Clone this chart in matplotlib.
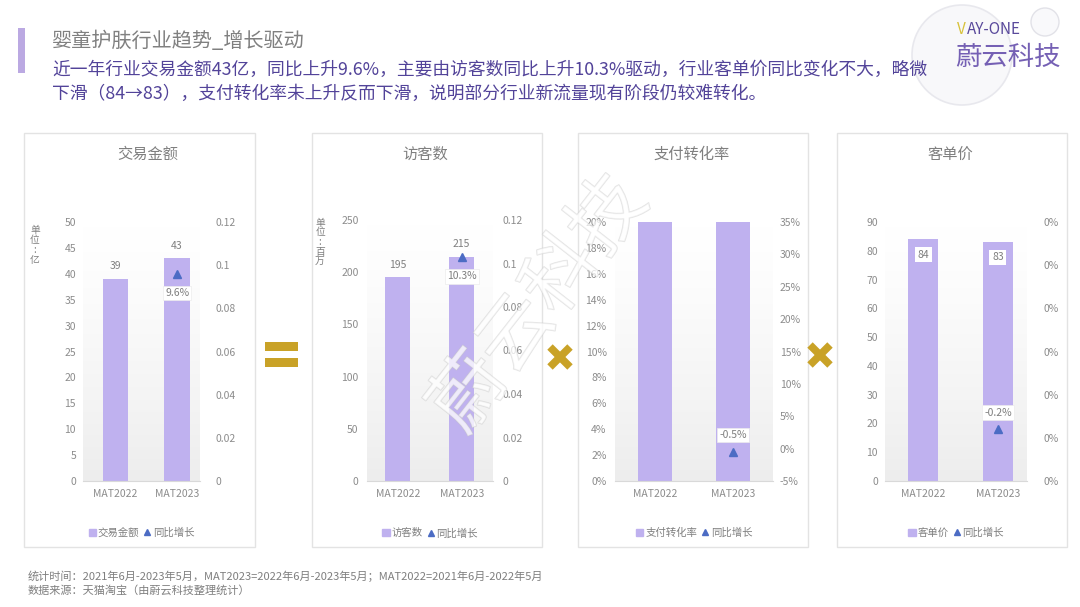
import numpy as np
import matplotlib
matplotlib.use('Agg')
import matplotlib.pyplot as plt
from matplotlib.patches import Rectangle, Circle, Patch
from matplotlib.lines import Line2D
import matplotlib.patheffects as pe
from matplotlib.ticker import FuncFormatter

plt.rcParams['font.family'] = ['Noto Sans CJK SC', 'DejaVu Sans']

# -------------------------------
# data
# -------------------------------
periods = ['MAT2022', 'MAT2023']

gmv = [39, 43]            # 交易金额 (亿)
gmv_yoy = 0.096
visitors = [195, 215]     # 访客数 (百万)
visitors_yoy = 0.103
cvr = [0.238, 0.237]      # 支付转化率 (above the 20% axis top, bars are cut)
cvr_yoy = -0.005
aov = [84, 83]            # 客单价
aov_yoy = -0.0019

titles = ['交易金额', '访客数', '支付转化率', '客单价']
yoy_name = '同比增长'

# -------------------------------
# style
# -------------------------------
W, H = 1080, 607
BAR = '#bfb1ef'
TRI = '#4c6cc4'
GRAY = '#7f7f7f'
TICK = '#8c8c8c'
GOLD = '#c9a227'
EDGE = '#e3e3e3'

fig = plt.figure(figsize=(W / 100, H / 100), dpi=100)

# background layer in pixel coordinates (panel frames, signs, logo)
bg = fig.add_axes([0, 0, 1, 1], zorder=-1)
bg.set_xlim(0, W)
bg.set_ylim(H, 0)
bg.axis('off')

for x0, x1 in [(24, 255), (312, 542), (578, 808), (837, 1067)]:
    bg.add_patch(Rectangle((x0, 133), x1 - x0, 414, fill=False, ec=EDGE, lw=1))

# "=" sign
bg.add_patch(Rectangle((265, 342), 33, 9, color=GOLD, lw=0))
bg.add_patch(Rectangle((265, 358), 33, 9, color=GOLD, lw=0))
# two "x" signs
for cx, cy in [(560, 357), (820, 355)]:
    d = 10
    bg.plot([cx - d, cx + d], [cy - d, cy + d], color=GOLD, lw=5.5, solid_capstyle='butt')
    bg.plot([cx - d, cx + d], [cy + d, cy - d], color=GOLD, lw=5.5, solid_capstyle='butt')

# header bar
bg.add_patch(Rectangle((18, 28), 7, 45, color='#bba9e2', lw=0))

# logo bubbles
bg.add_patch(Circle((962, 55), 50, fc='#f8f8fa', ec='#e6e6ec', lw=1.2, alpha=0.9))
bg.add_patch(Circle((1045, 22), 14, fc='#f9f9fb', ec='#e2e2e8', lw=1))


def px_axes(left, top, right, bottom):
    return fig.add_axes([left / W, 1 - bottom / H, (right - left) / W, (bottom - top) / H])


def make_panel(box, xlim, width, vals, yoy, name, lylim, lticks, lfmt,
               rylim, rticks, rfmt, lpad, rpad, yoy_off, value_mode):
    ax = px_axes(*box)
    ax.set_xlim(*xlim)
    ax.set_ylim(*lylim)

    # soft gray gradient behind the bars
    grad = np.zeros((100, 1, 4))
    grad[..., :3] = 0.93
    grad[:, 0, 3] = np.linspace(0, 1, 100) ** 1.3
    ax.imshow(grad, extent=[xlim[0], xlim[1], lylim[0], lylim[1]],
              origin='upper', aspect='auto', zorder=0, interpolation='bilinear')
    ax.set_xlim(*xlim)
    ax.set_ylim(*lylim)

    x = np.arange(len(periods))
    ax.bar(x, vals, width=width, color=BAR, zorder=2)

    ax.set_xticks(x)
    ax.set_xticklabels(periods)
    ax.set_yticks(lticks)
    ax.yaxis.set_major_formatter(FuncFormatter(lfmt))
    for s in ['top', 'left', 'right']:
        ax.spines[s].set_visible(False)
    ax.spines['bottom'].set_color('#d9d9d9')
    ax.tick_params(axis='both', length=0, labelsize=7.5, labelcolor=TICK)
    ax.tick_params(axis='y', pad=lpad)
    ax.tick_params(axis='x', pad=6)

    if value_mode == 'above':
        for xi, v in zip(x, vals):
            ax.annotate(f'{v}', (xi, v), xytext=(0, 9), textcoords='offset points',
                        ha='center', va='center', fontsize=7.5, color=GRAY)
    elif value_mode == 'inside':
        for xi, v in zip(x, vals):
            ax.annotate(f'{v}', (xi, v), xytext=(0, -11), textcoords='offset points',
                        ha='center', va='center', fontsize=7.5, color=GRAY,
                        bbox=dict(boxstyle='square,pad=0.25', fc='white', ec='none'))

    ax2 = ax.twinx()
    ax2.set_ylim(*rylim)
    ax2.set_yticks(rticks)
    ax2.yaxis.set_major_formatter(FuncFormatter(rfmt))
    for s in ['top', 'left', 'right', 'bottom']:
        ax2.spines[s].set_visible(False)
    ax2.tick_params(axis='y', length=0, labelsize=7.5, labelcolor=TICK, pad=rpad)
    ax2.plot([x[1]], [yoy], linestyle='none', marker='^', ms=6, color=TRI, zorder=5)
    ax2.annotate(f'{yoy:.1%}', (x[1], yoy), xytext=(0, yoy_off), textcoords='offset points',
                 ha='center', va='center', fontsize=7.5, color=GRAY,
                 bbox=dict(boxstyle='square,pad=0.2', fc='white', ec='#ececec', lw=0.5))

    handles = [Patch(color=BAR), Line2D([], [], marker='^', ls='none', color=TRI, ms=5)]
    ax.legend(handles, [name, yoy_name], loc='center', bbox_to_anchor=(0.5, -0.2),
              ncol=2, frameon=False, fontsize=7.5, labelcolor=GRAY,
              handlelength=0.7, handleheight=0.7, handletextpad=0.2, columnspacing=0.4)
    return ax


plain = lambda v, p: f'{v:g}'
pct0 = lambda v, p: f'{v:.0%}'.replace('-0%', '0%')

make_panel((83, 222, 200, 481), (-0.52, 1.37), 0.41, gmv, gmv_yoy, titles[0],
           (0, 50), np.arange(0, 51, 5), plain,
           (0, 0.12), np.arange(0, 0.121, 0.02), plain, 5, 11, -14, 'above')
make_panel((367, 220, 493, 481), (-0.48, 1.49), 0.40, visitors, visitors_yoy, titles[1],
           (0, 250), np.arange(0, 251, 50), plain,
           (0, 0.12), np.arange(0, 0.121, 0.02), plain, 6, 7, -14, 'above')
make_panel((615, 222, 773, 481), (-0.51, 1.51), 0.43, cvr, cvr_yoy, titles[2],
           (0, 0.2), np.arange(0, 0.201, 0.02), pct0,
           (-0.05, 0.35), np.arange(-0.05, 0.351, 0.05), pct0, 6, 5, 12, None)
make_panel((885, 222, 1027, 481), (-0.51, 1.39), 0.41, aov, aov_yoy, titles[3],
           (0, 90), np.arange(0, 91, 10), plain,
           (-0.0025, 0.0005), np.linspace(-0.0025, 0.0005, 7), pct0, 5, 12, 12, 'inside')

# panel titles
for cx, t in zip([148, 425, 692, 950], titles):
    fig.text(cx / W, 1 - 154 / H, t, ha='center', va='center', fontsize=11, color=GRAY)

# unit labels
fig.text(35 / W, 1 - 245 / H, '单\n位\n:\n亿', ha='center', va='center',
         fontsize=7, color=GRAY, linespacing=1.0)
fig.text(320 / W, 1 - 242 / H, '单\n位\n:\n百\n万', ha='center', va='center',
         fontsize=7, color=GRAY, linespacing=0.95)

# header
fig.text(52 / W, 1 - 41 / H, '婴童护肤行业趋势_增长驱动', ha='left', va='center',
         fontsize=14.5, color='#808080')
sub_color = '#524399'
fig.text(52 / W, 1 - 70 / H,
         '近一年行业交易金额43亿，同比上升9.6%，主要由访客数同比上升10.3%驱动，行业客单价同比变化不大，略微',
         ha='left', va='center', fontsize=12.8, color=sub_color)
fig.text(52 / W, 1 - 94 / H,
         '下滑（84→83），支付转化率未上升反而下滑，说明部分行业新流量现有阶段仍较难转化。',
         ha='left', va='center', fontsize=12.8, color=sub_color)

# logo
fig.text(957 / W, 1 - 29 / H, 'V', ha='left', va='center', fontsize=11, color='#d8c23a')
fig.text(967 / W, 1 - 29 / H, 'AY-ONE', ha='left', va='center', fontsize=11, color='#5a4a9c')
fig.text(955 / W, 1 - 57 / H, '蔚云科技', ha='left', va='center', fontsize=19,
         color='#7560b4')

# watermark
fig.text(540 / W, 1 - 305 / H, '蔚云科技', ha='center', va='center', fontsize=54,
         rotation=52, color='white', alpha=0.5,
         path_effects=[pe.withStroke(linewidth=1.0, foreground='#c8c8c8')])

# footer
fig.text(28 / W, 1 - 576 / H,
         '统计时间：2021年6月-2023年5月，MAT2023=2022年6月-2023年5月；MAT2022=2021年6月-2022年5月',
         ha='left', va='center', fontsize=8, color=GRAY)
fig.text(28 / W, 1 - 590 / H, '数据来源：天猫淘宝（由蔚云科技整理统计）',
         ha='left', va='center', fontsize=8, color=GRAY)

fig.savefig('out.png', dpi=100)
